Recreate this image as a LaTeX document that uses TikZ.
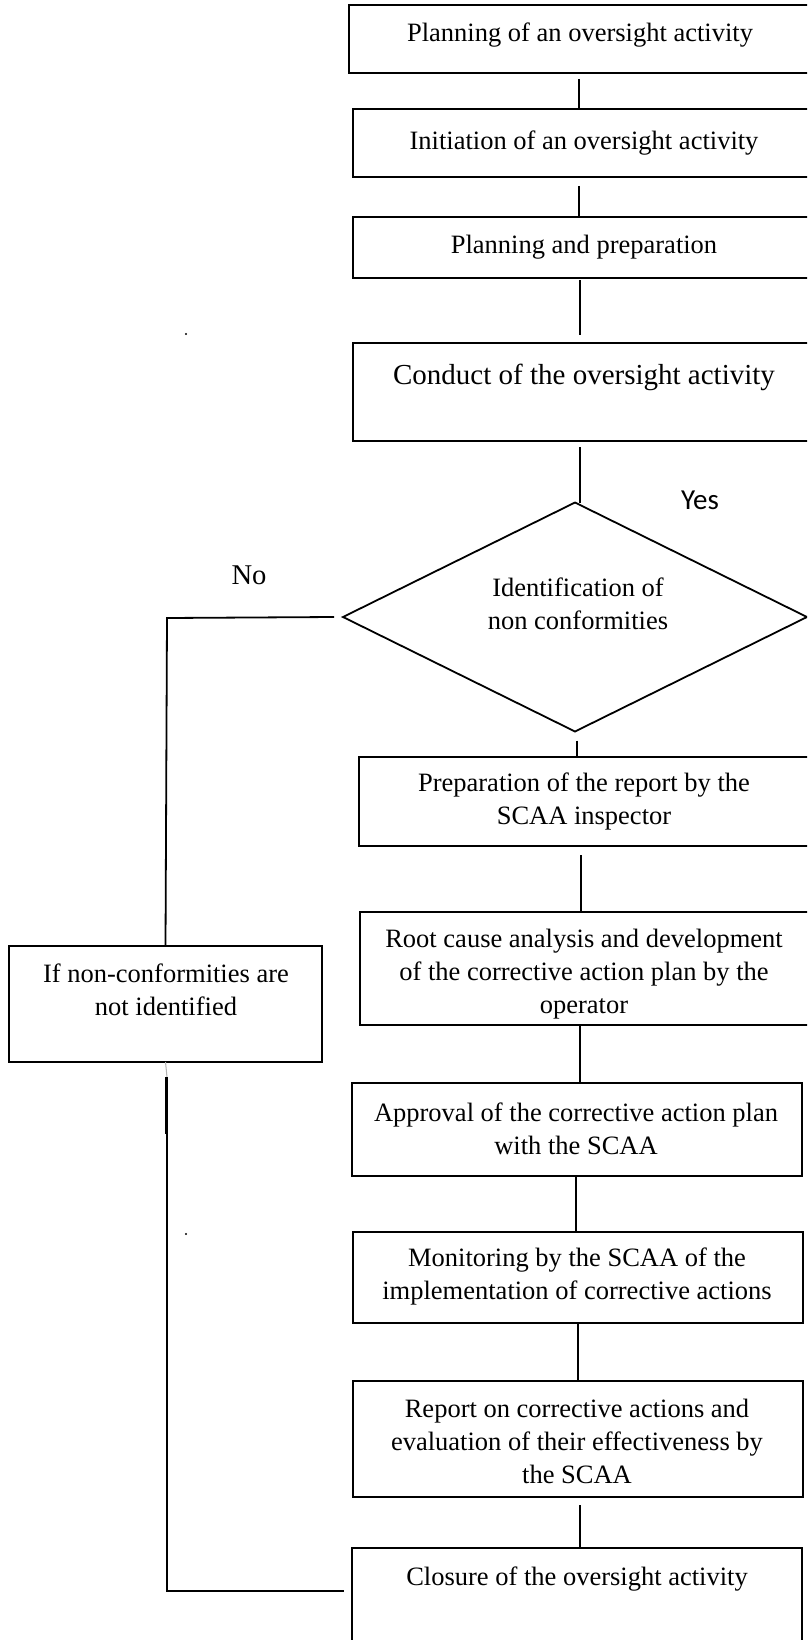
\documentclass[tikz,border=0pt]{standalone}
\usepackage{fontspec}
\setmainfont{Liberation Serif}
\newfontfamily\yesfont{Carlito}
\usetikzlibrary{shapes.geometric}
\tikzset{
  box/.style={draw, line width=1.7pt, inner sep=0pt, outer sep=0pt, anchor=north west},
  txt/.style={align=center, inner sep=0pt, font=\fontsize{26.5}{33}\selectfont},
  conn/.style={line width=1.4pt},
  side/.style={line width=1.8pt},
}
\begin{document}
\begin{tikzpicture}[x=1pt,y=-1pt]
\useasboundingbox (0,0) rectangle (807,1640);
\clip (0,0) rectangle (807,1640);
% boxes
\node[box, minimum width=462, minimum height=68] (b1) at (349,5) {};
\node[box, minimum width=458, minimum height=68] (b2) at (353,109) {};
\node[box, minimum width=458, minimum height=61] (b3) at (353,217) {};
\node[box, minimum width=458, minimum height=98] (b4) at (353,343) {};
\node[diamond, draw, line width=1.8pt, inner sep=0pt, outer sep=0pt, minimum width=464, minimum height=229] (dia) at (575,617) {};
\node[box, minimum width=452, minimum height=89] (prep) at (359,757) {};
\node[box, minimum width=451, minimum height=113] (root) at (360,912) {};
\node[box, minimum width=313, minimum height=116] (ifb) at (9,946) {};
\node[box, minimum width=450, minimum height=93] (appr) at (352,1083) {};
\node[box, minimum width=450, minimum height=91] (moni) at (353,1232) {};
\node[box, minimum width=450, minimum height=116] (rep) at (353,1381) {};
\node[box, minimum width=450, minimum height=110] (clos) at (352,1548) {};
% texts
\node[txt] (t1) at (580,35) {Planning of an oversight activity};
\node[txt] (t2) at (584,143) {Initiation of an oversight activity};
\node[txt] (t3) at (584,247) {Planning and preparation};
\node[txt, font=\fontsize{29}{35}\selectfont] (t4) at (584,377) {Conduct of the oversight activity};
\node[txt] (td) at (578,604) {Identification of\\non conformities};
\node[txt] (tp) at (584,801.5) {Preparation of the report by the\\SCAA inspector};
\node[txt] (tr) at (584,974.5) {Root cause analysis and development\\of the corrective action plan by the\\operator};
\node[txt] (ti) at (166,990) {If non-conformities are\\not identified};
\node[txt] (ta) at (576,1128.5) {Approval of the corrective action plan\\with the SCAA};
\node[txt] (tm) at (577,1276.5) {Monitoring by the SCAA of the\\implementation of corrective actions};
\node[txt] (tre) at (577,1441) {Report on corrective actions and\\evaluation of their effectiveness by\\the SCAA};
\node[txt] (tc) at (577,1579) {Closure of the oversight activity};
\node[txt, font=\fontsize{28.6}{33}\selectfont] (no) at (249,575) {No};
\node[txt, font=\yesfont\fontsize{29}{35}\selectfont] (yes) at (700,500) {Yes};
% connectors
\draw[conn] ([shift={(230,6)}]b1.south west) -- ([shift={(226,0)}]b2.north west);
\draw[conn] ([shift={(226,9)}]b2.south west) -- ([shift={(226,0)}]b3.north west);
\draw[conn] ([shift={(227,2)}]b3.south west) -- ([shift={(227,-8)}]b4.north west);
\draw[conn] ([shift={(227,6)}]b4.south west) -- (dia.north -| {(580,0)});
\draw[conn] ([yshift=-9]dia.south -| {(577,0)}) -- (prep.north -| {(577,0)});
\draw[conn] ([shift={(222,9)}]prep.south west) -- ([shift={(221,0)}]root.north west);
\draw[conn] ([shift={(220,0)}]root.south west) -- ([shift={(228,0)}]appr.north west);
\draw[conn] ([shift={(224,0)}]appr.south west) -- ([shift={(223,0)}]moni.north west);
\draw[conn] ([shift={(225,0)}]moni.south west) -- ([shift={(225,0)}]rep.north west);
\draw[conn] ([shift={(227,8)}]rep.south west) -- ([shift={(228,0)}]clos.north west);
% side path (No branch)
\coordinate (lc) at (167,618);
\draw[side] ([xshift=-9]dia.west) -- (lc) -- (ifb.north);
\coordinate (lb) at (167,1591);
\draw[line width=1pt, gray!60] (ifb.south) -- (167,1077);
\draw[side] (167,1077) -- (lb) -- ([shift={(-8,43)}]clos.north west);
\draw[line width=3pt] (166.5,1077) -- (166.5,1134);
% stray dots
\fill (186,334) circle (1.1);
\fill (186,1234) circle (1.1);
\end{tikzpicture}
\end{document}
